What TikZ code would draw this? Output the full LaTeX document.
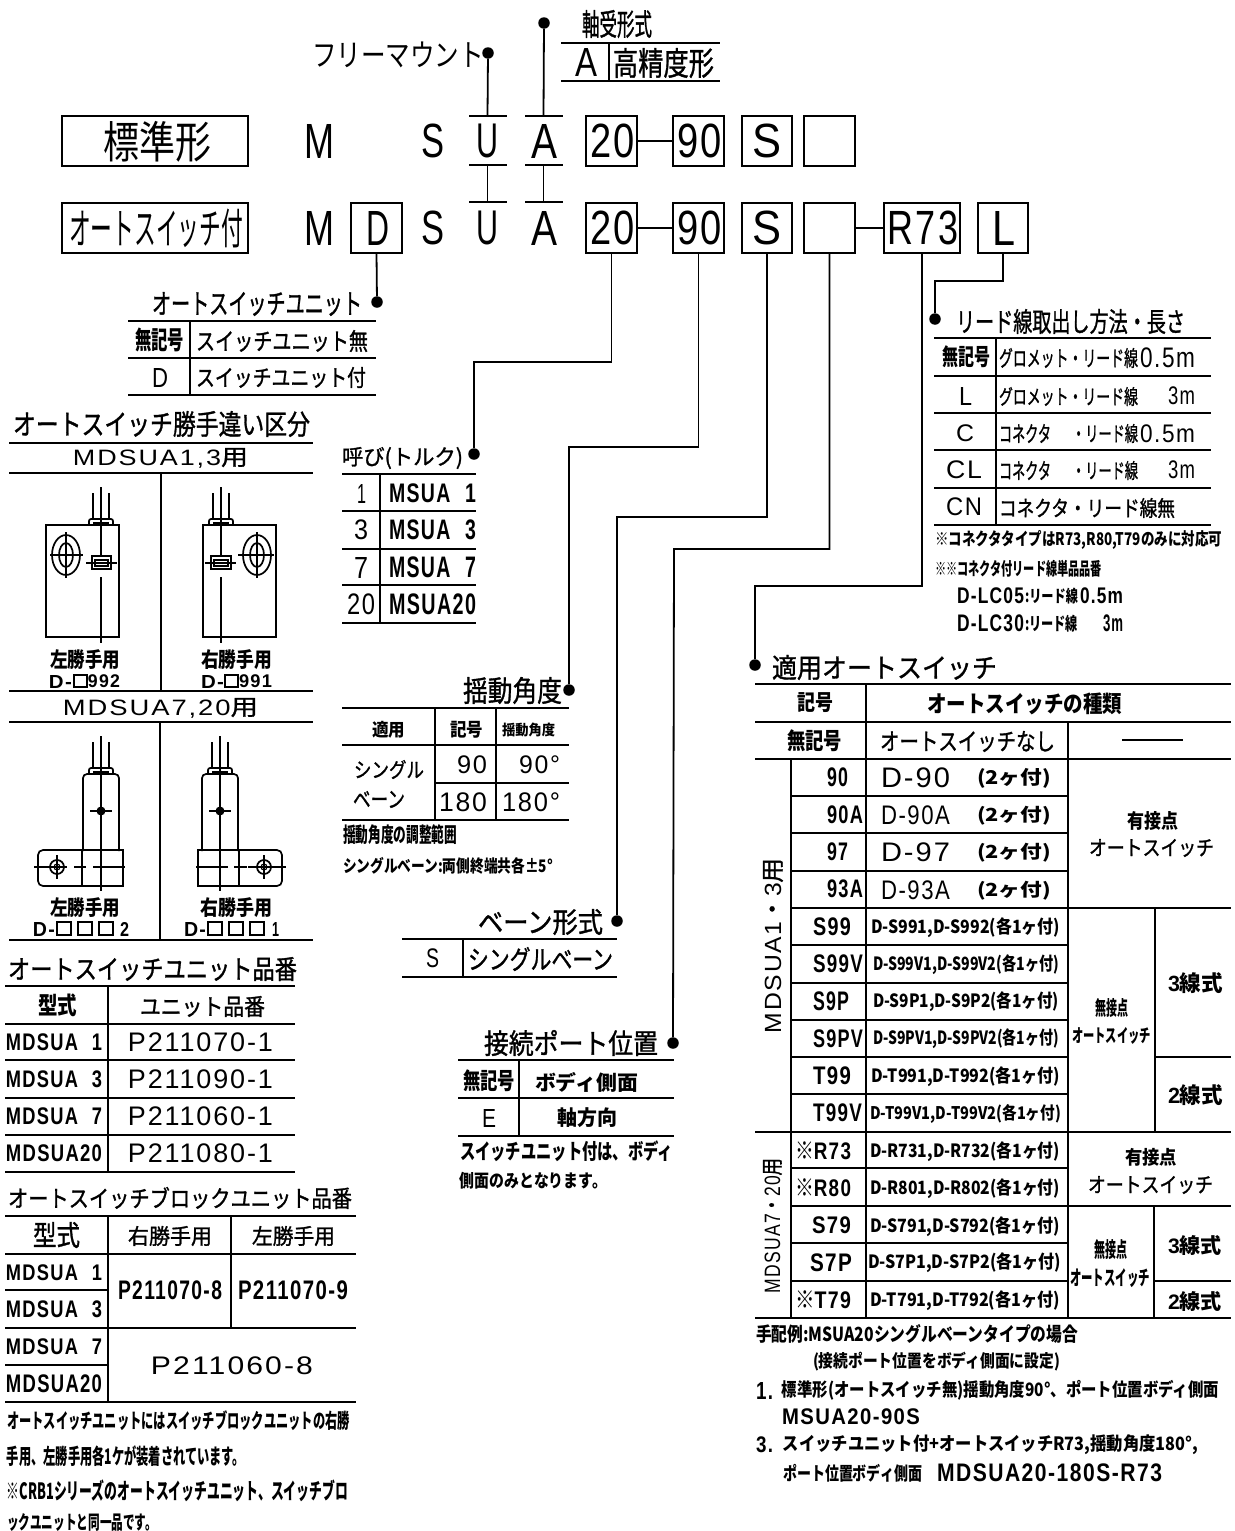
\documentclass[tikz,border=0pt]{standalone}
\usepackage{graphicx}
\usepackage{fontspec}
\setmainfont{Noto Sans CJK JP}
\newfontfamily\mn[LetterSpace=7]{Liberation Sans}
\newfontfamily\jm[FakeBold=1.2]{Noto Sans CJK JP}
\newcommand\gapw{\hspace{.75em}}
\newcounter{tn}
\tikzset{
  ln/.style={line width=1.8pt,line cap=butt,line join=miter},
  thin line/.style={line width=1.1pt},
  shape line/.style={line width=1.7pt},
  txt/.style={inner sep=0pt,outer sep=0pt,anchor=center},
  bx/.style={draw,line width=1.9pt,inner sep=0pt,outer sep=0pt,anchor=center},
  dotn/.style={circle,fill=black,inner sep=0pt,minimum size=11.5pt,outer sep=0pt}
}
% fitted text: x1 y1 x2 y2 text
\newcommand\fitnode[6]{\stepcounter{tn}\node[txt] (t\arabic{tn}) at ({(#1+#3)/2},{(#2+#4)/2}) {\resizebox*{\dimexpr#3pt-#1pt\relax}{\dimexpr#4pt-#2pt\relax}{#6#5}};}
\newcommand\jpt[5]{\fitnode{#1}{#2}{#3}{#4}{#5}{\normalfont}}
\newcommand\jpr[5]{\fitnode{#1}{#2}{#3}{#4}{#5}{\jm}}
\newcommand\jpb[5]{\fitnode{#1}{#2}{#3}{#4}{#5}{\bfseries}}
\newcommand\mnr[5]{\fitnode{#1}{#2}{#3}{#4}{#5}{\mn}}
\newcommand\mnb[5]{\fitnode{#1}{#2}{#3}{#4}{#5}{\mn\bfseries}}
\newcommand\rotj[5]{\fitnode{#1}{#2}{#3}{#4}{\rotatebox{90}{#5}}{\jm}}
\newcommand\boxn[5]{\node[bx,minimum width=#4pt-#2pt,minimum height=#5pt-#3pt] (#1) at ({(#2+#4)/2},{(#3+#5)/2}) {};}
\newcommand\hln[3]{\draw[ln] (#1,#3) -- (#2,#3);}
\newcommand\vln[3]{\draw[ln] (#1,#2) -- (#1,#3);}
\newcommand\wirepair[3]{% cx ytop ytab
  \draw[shape line] (#1-8,#2+6) -- (#1-8,#3) (#1+8,#2+6) -- (#1+8,#3);
  \draw[shape line,rounded corners=2pt] (#1-12,#3+6) -- (#1-12,#3) -- (#1+12,#3) -- (#1+12,#3+6);
  \draw[shape line] (#1-8,#3+4) -- (#1+8,#3+4);
}
\begin{document}
\begin{tikzpicture}[x=1pt,y=-1pt]
\useasboundingbox (0,0) rectangle (1234,1531);
% ---------- code rows
\boxn{bStd}{62}{116}{248}{166}
\boxn{bAuto}{62}{203}{248}{253}
\jpt{103}{121}{211}{162}{標準形}
\jpt{69}{209}{243}{248}{オートスイッチ付}
\mnr{304}{124}{334}{158}{M}
\mnr{304}{211}{334}{245}{M}
\boxn{bD}{351}{203}{402}{253}
\mnr{366}{211}{389}{245}{D}
\mnr{421}{124}{444}{158}{S}
\mnr{421}{211}{444}{245}{S}
\mnr{476}{124}{498}{158}{U}
\mnr{476}{211}{498}{245}{U}
\mnr{531}{124}{557}{158}{A}
\mnr{531}{211}{557}{245}{A}
\boxn{bA20}{586}{116}{637}{166}
\boxn{bA90}{673}{116}{724}{166}
\boxn{bAS}{742}{116}{792}{166}
\boxn{bAE}{804}{116}{855}{166}
\boxn{bB20}{586}{203}{637}{253}
\boxn{bB90}{673}{203}{724}{253}
\boxn{bBS}{742}{203}{792}{253}
\boxn{bBE}{804}{203}{855}{253}
\boxn{bR}{884}{203}{960}{253}
\boxn{bL}{978}{203}{1028}{253}
\mnr{590}{124}{635}{158}{20}
\mnr{677}{124}{722}{158}{90}
\mnr{752}{124}{781}{158}{S}
\mnr{590}{211}{635}{245}{20}
\mnr{677}{211}{722}{245}{90}
\mnr{752}{211}{781}{245}{S}
\mnr{887}{211}{958}{245}{R73}
\mnr{992}{211}{1015}{245}{L}
\draw[ln] (bA20.east) -- (bA90.west);
\draw[ln] (bB20.east) -- (bB90.west);
\draw[ln] (bBE.east) -- (bR.west);
% ---------- U / A rules and top connectors
\coordinate (uT) at (487.5,116); \coordinate (uM) at (487.5,165); \coordinate (uB) at (487.5,202);
\coordinate (aT) at (543.5,116); \coordinate (aM) at (543.5,165); \coordinate (aB) at (543.5,202);
\hln{469}{507}{116} \hln{469}{507}{165} \hln{469}{507}{202}
\hln{525}{563}{116} \hln{525}{563}{165} \hln{525}{563}{202}
\node[dotn] (dU) at (488,53) {};
\node[dotn] (dA) at (544,23) {};
\draw[ln] (dU) -- (uT);
\draw[ln] (dA) -- (aT);
\draw[ln] (uM) -- (uB);
\draw[ln] (aM) -- (aB);
\jpt{312}{42}{484}{68}{フリーマウント}
\jpr{582}{10}{652}{38}{軸受形式}
\hln{561}{720}{43} \hln{561}{720}{81} \vln{609}{43}{81}
\mnr{575}{48}{597}{76}{A}
\jpr{613}{48}{714}{78}{高精度形}
% ---------- connectors with bends
\node[dotn] (dD) at (377,302) {};
\node[dotn] (d20) at (474,454) {};
\node[dotn] (d90) at (569,690) {};
\node[dotn] (dS) at (617,921) {};
\node[dotn] (dE) at (673,1043) {};
\node[dotn] (dR) at (755,665) {};
\node[dotn] (dL) at (935,319) {};
\coordinate (c20) at (474,362);
\coordinate (c90) at (569,447);
\coordinate (cS) at (617,517);
\coordinate (cE) at (674,549);
\coordinate (cR) at (755,586);
\coordinate (cL) at (935,281);
\draw[ln] (bD.south) -- (dD);
\draw[ln] (bB20.south) |- (c20) -- (d20);
\draw[ln] (bB90.south) |- (c90) -- (d90);
\draw[ln] (bBS.south) |- (cS) -- (dS);
\draw[ln] (bBE.south) |- (cE) -- (dE);
\draw[ln] (bR.south) |- (cR) -- (dR);
\draw[ln] (bL.south) |- (cL) -- (dL);
% ---------- auto switch unit
\jpr{152}{292}{362}{316}{オートスイッチユニット}
\hln{128}{376}{321} \hln{128}{376}{358} \hln{128}{376}{395} \vln{190}{321}{395}
\jpb{135}{328}{184}{352}{無記号}
\jpr{196}{330}{368}{352}{スイッチユニット無}
\mnr{152}{368}{168}{387}{D}
\jpr{196}{367}{366}{388}{スイッチユニット付}
% ---------- lead wire table
\jpr{956}{309}{1185}{334}{リード線取出し方法・長さ}
\hln{934}{1211}{338} \hln{934}{1211}{376} \hln{934}{1211}{413} \hln{934}{1211}{450} \hln{934}{1211}{488} \hln{934}{1211}{525}
\vln{996}{338}{525}
\jpb{942}{346}{990}{368}{無記号}
\jpr{999}{348}{1138}{368}{グロメット・リード線}
\mnr{1140}{348}{1195}{368}{0.5m}
\mnr{959}{387}{972}{405}{L}
\jpr{999}{387}{1138}{406}{グロメット・リード線}
\mnr{1168}{387}{1195}{405}{3m}
\mnr{956}{425}{974}{442}{C}
\jpr{999}{424}{1051}{443}{コネクタ}
\jpr{1072}{424}{1138}{443}{・リード線}
\mnr{1140}{425}{1195}{443}{0.5m}
\mnr{946}{461}{982}{479}{CL}
\jpr{999}{461}{1051}{480}{コネクタ}
\jpr{1072}{461}{1138}{480}{・リード線}
\mnr{1168}{461}{1195}{479}{3m}
\mnr{946}{498}{982}{516}{CN}
\jpr{999}{498}{1175}{518}{コネクタ・リード線無}
\jpb{935}{530}{1222}{549}{※コネクタタイプはR73,R80,T79のみに対応可}
\jpb{935}{560}{1102}{577}{※※コネクタ付リード線単品品番}
\mnb{957}{588}{1024}{604}{D-LC05}
\jpb{1025}{588}{1078}{604}{:リード線}
\mnb{1080}{588}{1123}{604}{0.5m}
\mnb{957}{615}{1024}{632}{D-LC30}
\jpb{1025}{615}{1078}{632}{:リード線}
\mnb{1103}{615}{1123}{632}{3m}
% ---------- hand difference
\jpr{13}{411}{310}{437}{オートスイッチ勝手違い区分}
\hln{9}{313}{443} \hln{9}{313}{473} \hln{9}{313}{691} \hln{9}{313}{722} \hln{9}{313}{940}
\vln{161}{473}{691} \vln{160}{722}{940}
\jpr{73}{448}{248}{468}{{\mn MDSUA1,3}用}
\jpr{63}{698}{258}{718}{{\mn MDSUA7,20}用}
% left switch, small body
\wirepair{101}{487}{519}
\draw[shape line] (46,525) rectangle (119,637);
\draw[thin line] (101,487) -- (101,556) (101,577) -- (101,643);
\draw[shape line] (66,555) ellipse (14 and 20);
\draw[shape line] (66,555) ellipse (7 and 12);
\draw[thin line] (50,555) -- (83,555) (66,532) -- (66,578);
\draw[shape line] (92,556) rectangle (111,569);
\draw[thin line] (95,560) rectangle (108,566);
\draw[thin line] (86,563) -- (117,563);
% right switch, small body
\wirepair{221}{487}{519}
\draw[shape line] (203,525) rectangle (276,637);
\draw[thin line] (221,487) -- (221,556) (221,577) -- (221,643);
\draw[shape line] (257,555) ellipse (14 and 20);
\draw[shape line] (257,555) ellipse (7 and 12);
\draw[thin line] (238,555) -- (274,555) (257,532) -- (257,578);
\draw[shape line] (211,556) rectangle (231,569);
\draw[thin line] (214,560) rectangle (228,566);
\draw[thin line] (205,563) -- (236,563);
\jpb{50}{650}{120}{670}{左勝手用}
\mnb{49}{675}{72}{688}{D-}
\draw[shape line] (74,675) rectangle (87,687);
\mnb{88}{675}{120}{688}{992}
\jpb{201}{650}{272}{670}{右勝手用}
\mnb{201}{675}{224}{688}{D-}
\draw[shape line] (225,675) rectangle (238,687);
\mnb{239}{675}{272}{688}{991}
% left switch, T body
\wirepair{101}{736}{768}
\draw[shape line,rounded corners=4pt] (83,851) -- (83,774) -- (119,774) -- (119,851);
\draw[shape line,rounded corners=5pt] (82,850) -- (38,850) -- (38,886) -- (82,886);
\draw[shape line] (82,850) rectangle (123,886);
\draw[thin line] (101,736) -- (101,891);
\draw[shape line] (57,867) circle (7);
\draw[thin line] (57,867) circle (3);
\draw[thin line] (34,867) -- (67,867) (57,855) -- (57,879) (74,867) -- (86,867) (93,867) -- (125,867);
\fill (101,811) circle (4.5);
\draw[thin line] (90,811) -- (112,811);
% right switch, T body
\wirepair{220}{736}{768}
\draw[shape line,rounded corners=4pt] (202,851) -- (202,774) -- (238,774) -- (238,851);
\draw[shape line] (198,850) rectangle (239,886);
\draw[shape line,rounded corners=5pt] (239,850) -- (282,850) -- (282,886) -- (239,886);
\draw[thin line] (220,736) -- (220,891);
\draw[shape line] (264,867) circle (7);
\draw[thin line] (264,867) circle (3);
\draw[thin line] (248,867) -- (286,867) (264,855) -- (264,879) (196,867) -- (228,867) (234,867) -- (247,867);
\fill (220,811) circle (4.5);
\draw[thin line] (209,811) -- (231,811);
\jpb{50}{898}{120}{918}{左勝手用}
\mnb{33}{922}{55}{936}{D-}
\draw[shape line] (57,922) rectangle (71,935) (78,922) rectangle (92,935) (99,922) rectangle (113,935);
\mnb{120}{922}{129}{936}{2}
\jpb{200}{898}{272}{918}{右勝手用}
\mnb{184}{922}{206}{936}{D-}
\draw[shape line] (208,922) rectangle (222,935) (229,922) rectangle (243,935) (250,922) rectangle (264,935);
\mnb{272}{922}{279}{936}{1}
% ---------- unit number table
\jpr{8}{957}{297}{981}{オートスイッチユニット品番}
\hln{5}{295}{986} \hln{5}{295}{1024} \hln{5}{295}{1060} \hln{5}{295}{1098} \hln{5}{295}{1135} \hln{5}{295}{1172}
\vln{108}{986}{1172}
\jpb{38}{994}{77}{1017}{型式}
\jpr{140}{996}{265}{1017}{ユニット品番}
\mnb{6}{1034}{102}{1051}{MDSUA\gapw 1}
\mnb{6}{1071}{102}{1088}{MDSUA\gapw 3}
\mnb{6}{1108}{102}{1125}{MDSUA\gapw 7}
\mnb{6}{1145}{102}{1162}{MDSUA20}
\mnr{128}{1033}{273}{1052}{P211070-1}
\mnr{128}{1070}{273}{1089}{P211090-1}
\mnr{128}{1107}{273}{1126}{P211060-1}
\mnr{128}{1144}{273}{1163}{P211080-1}
% ---------- block unit table
\jpr{8}{1187}{352}{1209}{オートスイッチブロックユニット品番}
\hln{5}{356}{1216} \hln{5}{356}{1254} \hln{5}{108}{1290} \hln{5}{356}{1328} \hln{5}{108}{1365} \hln{5}{356}{1402}
\vln{108}{1216}{1402} \vln{231}{1216}{1328}
\jpr{33}{1222}{80}{1248}{型式}
\jpr{128}{1226}{212}{1246}{右勝手用}
\jpr{252}{1226}{335}{1246}{左勝手用}
\mnb{6}{1265}{102}{1281}{MDSUA\gapw 1}
\mnb{6}{1301}{102}{1318}{MDSUA\gapw 3}
\mnb{6}{1339}{102}{1355}{MDSUA\gapw 7}
\mnb{6}{1375}{102}{1393}{MDSUA20}
\mnb{118}{1281}{222}{1300}{P211070-8}
\mnb{238}{1281}{348}{1300}{P211070-9}
\mnr{151}{1357}{313}{1375}{P211060-8}
\jpb{7}{1411}{350}{1431}{オートスイッチユニットにはスイッチブロックユニットの右勝}
\jpb{7}{1446}{245}{1467}{手用、左勝手用各1ケが装着されています。}
\jpb{7}{1480}{348}{1502}{※CRB1シリーズのオートスイッチユニット、スイッチブロ}
\jpb{7}{1513}{157}{1531}{ックユニットと同一品です。}
% ---------- size table
\jpr{342}{447}{463}{469}{呼び(トルク)}
\hln{342}{476}{474} \hln{342}{476}{511} \hln{342}{476}{549} \hln{342}{476}{585} \hln{342}{476}{623}
\vln{380}{474}{623}
\mnr{357}{484}{366}{503}{1}
\mnr{354}{520}{368}{540}{3}
\mnr{354}{557}{368}{578}{7}
\mnr{347}{594}{375}{615}{20}
\mnb{389}{484}{476}{503}{MSUA\gapw 1}
\mnb{389}{520}{476}{540}{MSUA\gapw 3}
\mnb{389}{557}{476}{578}{MSUA\gapw 7}
\mnb{389}{594}{476}{615}{MSUA20}
% ---------- swing angle
\jpr{463}{677}{562}{704}{揺動角度}
\hln{342}{569}{708} \hln{342}{569}{745} \hln{435}{569}{783} \hln{342}{569}{820}
\vln{435}{708}{820} \vln{496}{708}{820}
\jpb{372}{721}{405}{738}{適用}
\jpb{450}{721}{483}{738}{記号}
\jpb{502}{723}{555}{737}{揺動角度}
\jpr{354}{760}{424}{779}{シングル}
\jpr{353}{791}{405}{808}{ベーン}
\mnr{457}{756}{487}{774}{90}
\mnr{519}{756}{560}{774}{90°}
\mnr{439}{793}{487}{812}{180}
\mnr{502}{793}{560}{812}{180°}
\jpb{343}{825}{457}{845}{揺動角度の調整範囲}
\jpb{343}{857}{553}{874}{シングルベーン:両側終端共各±5°}
% ---------- vane type
\jpr{478}{909}{603}{935}{ベーン形式}
\hln{402}{617}{939} \hln{402}{617}{977} \vln{463}{939}{977}
\mnr{426}{949}{439}{968}{S}
\jpr{468}{947}{613}{971}{シングルベーン}
% ---------- port position
\jpr{484}{1030}{658}{1056}{接続ポート位置}
\hln{458}{674}{1060} \hln{458}{674}{1098} \hln{458}{674}{1136} \vln{519}{1060}{1136}
\jpb{463}{1070}{515}{1092}{無記号}
\jpb{535}{1072}{638}{1092}{ボディ側面}
\mnr{482}{1109}{496}{1127}{E}
\jpb{557}{1108}{617}{1128}{軸方向}
\jpb{460}{1141}{673}{1162}{スイッチユニット付は、ボディ}
\jpb{460}{1172}{607}{1189}{側面のみとなります。}
% ---------- applicable auto switch
\jpr{772}{655}{997}{680}{適用オートスイッチ}
\hln{755}{1231}{684} \hln{755}{1231}{722} \hln{755}{1231}{759} \hln{755}{1231}{1132} \hln{755}{1231}{1318}
\vln{866}{684}{1318} \vln{1068}{722}{1318} \vln{791}{759}{1318}
\hln{791}{1068}{796} \hln{791}{1068}{833} \hln{791}{1068}{871} \hln{791}{1231}{908}
\hln{791}{1068}{945} \hln{791}{1068}{983} \hln{791}{1068}{1020} \hln{791}{1068}{1057} \hln{791}{1068}{1094}
\hln{791}{1068}{1168} \hln{791}{1231}{1206} \hln{791}{1068}{1243} \hln{791}{1068}{1281}
\vln{1155}{908}{1132} \hln{1155}{1231}{1057}
\vln{1154}{1206}{1318} \hln{1154}{1231}{1281}
\jpb{797}{693}{833}{713}{記号}
\jpb{927}{693}{1122}{715}{オートスイッチの種類}
\jpb{787}{730}{842}{752}{無記号}
\jpr{880}{731}{1055}{752}{オートスイッチなし}
\draw[thin line] (1122,740) -- (1183,740);
\mnb{827}{768}{848}{787}{90}
\mnb{827}{806}{863}{824}{90A}
\mnb{827}{843}{848}{861}{97}
\mnb{827}{880}{863}{898}{93A}
\mnb{813}{918}{851}{936}{S99}
\mnb{813}{955}{863}{973}{S99V}
\mnb{813}{992}{849}{1011}{S9P}
\mnb{813}{1030}{863}{1048}{S9PV}
\mnb{813}{1067}{851}{1085}{T99}
\mnb{813}{1104}{862}{1122}{T99V}
\mnr{881}{768}{950}{788}{D-90}
\jpb{977}{768}{1051}{788}{(2ヶ付)}
\mnr{881}{806}{950}{825}{D-90A}
\jpb{977}{806}{1051}{825}{(2ヶ付)}
\mnr{881}{843}{950}{862}{D-97}
\jpb{977}{843}{1051}{862}{(2ヶ付)}
\mnr{881}{881}{950}{900}{D-93A}
\jpb{977}{881}{1051}{900}{(2ヶ付)}
\jpb{871}{918}{1060}{938}{D-S991,D-S992(各1ヶ付)}
\jpb{873}{955}{1059}{975}{D-S99V1,D-S99V2(各1ヶ付)}
\jpb{873}{992}{1059}{1012}{D-S9P1,D-S9P2(各1ヶ付)}
\jpb{873}{1029}{1059}{1049}{D-S9PV1,D-S9PV2(各1ヶ付)}
\jpb{871}{1067}{1060}{1087}{D-T991,D-T992(各1ヶ付)}
\jpb{870}{1104}{1061}{1123}{D-T99V1,D-T99V2(各1ヶ付)}
\jpb{1127}{811}{1178}{830}{有接点}
\jpr{1089}{839}{1214}{857}{オートスイッチ}
\jpb{1095}{998}{1128}{1017}{無接点}
\jpb{1072}{1027}{1151}{1044}{オートスイッチ}
\jpb{1168}{973}{1223}{994}{{\mn 3}線式}
\jpb{1168}{1085}{1223}{1106}{{\mn 2}線式}
\rotj{763}{858}{783}{1033}{{\mn MDSUA1}・{\mn 3}用}
\rotj{763}{1158}{782}{1293}{{\mn MDSUA7}・{\mn 20}用}
\jpb{795}{1142}{851}{1160}{※{\mn R73}}
\jpb{795}{1179}{851}{1197}{※{\mn R80}}
\mnb{812}{1217}{851}{1234}{S79}
\mnb{810}{1254}{852}{1272}{S7P}
\jpb{795}{1291}{851}{1309}{※{\mn T79}}
\jpb{870}{1142}{1060}{1162}{D-R731,D-R732(各1ヶ付)}
\jpb{870}{1179}{1060}{1199}{D-R801,D-R802(各1ヶ付)}
\jpb{870}{1217}{1060}{1237}{D-S791,D-S792(各1ヶ付)}
\jpb{868}{1253}{1061}{1273}{D-S7P1,D-S7P2(各1ヶ付)}
\jpb{870}{1291}{1060}{1311}{D-T791,D-T792(各1ヶ付)}
\jpb{1125}{1148}{1177}{1166}{有接点}
\jpr{1088}{1176}{1213}{1194}{オートスイッチ}
\jpb{1094}{1240}{1127}{1260}{無接点}
\jpb{1070}{1269}{1150}{1288}{オートスイッチ}
\jpb{1168}{1235}{1222}{1255}{{\mn 3}線式}
\jpb{1168}{1291}{1222}{1311}{{\mn 2}線式}
% ---------- ordering example
\jpb{756}{1324}{1078}{1343}{手配例:MSUA20シングルベーンタイプの場合}
\jpb{813}{1352}{1060}{1371}{(接続ポート位置をボディ側面に設定)}
\mnb{756}{1382}{773}{1399}{1.}
\jpb{782}{1380}{1219}{1400}{標準形(オートスイッチ無)揺動角度90°、ポート位置ボディ側面}
\mnb{782}{1409}{920}{1425}{MSUA20-90S}
\mnb{756}{1437}{773}{1453}{3.}
\jpb{783}{1435}{1198}{1455}{スイッチユニット付+オートスイッチR73,揺動角度180°,}
\jpb{783}{1464}{922}{1482}{ポート位置ボディ側面}
\mnb{937}{1464}{1162}{1482}{MDSUA20-180S-R73}
\end{tikzpicture}
\end{document}
